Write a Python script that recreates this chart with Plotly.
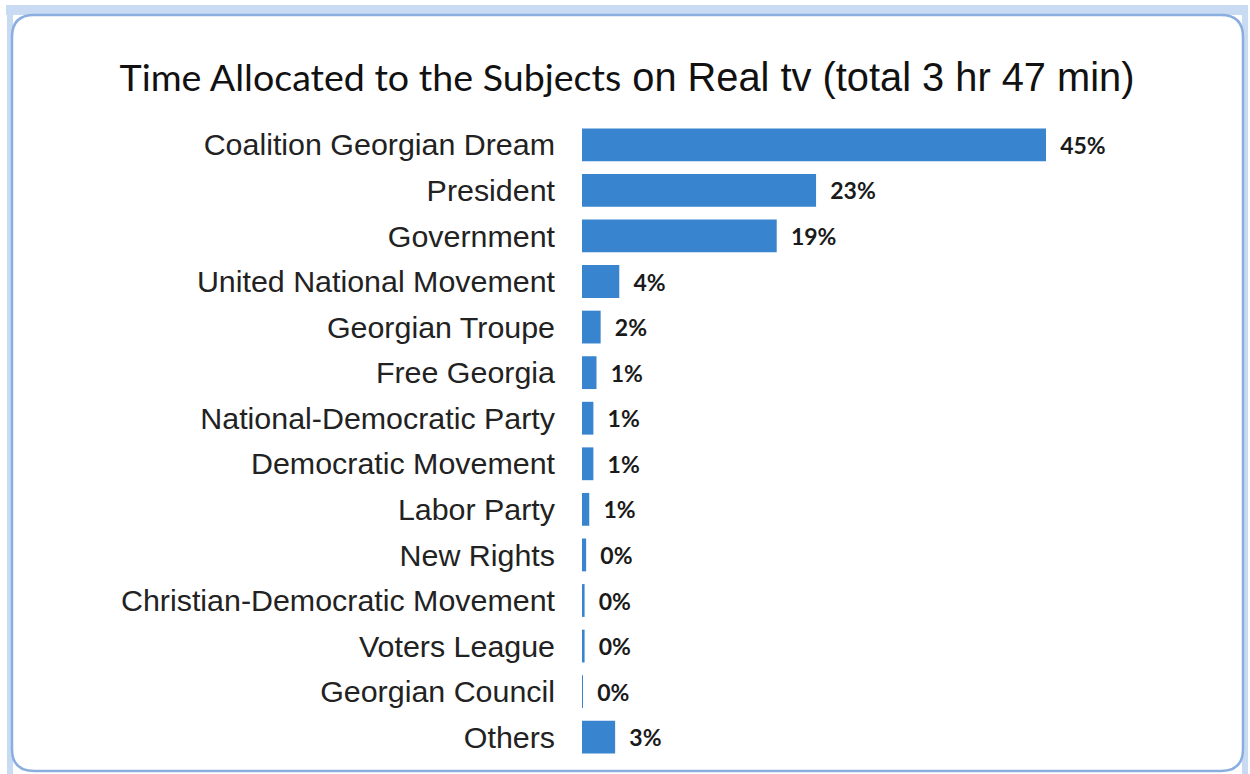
import plotly.graph_objects as go

categories = [
    "Coalition Georgian Dream", "President", "Government", "United National Movement",
    "Georgian Troupe", "Free Georgia", "National-Democratic Party", "Democratic Movement",
    "Labor Party", "New Rights", "Christian-Democratic Movement", "Voters League",
    "Georgian Council", "Others",
]
shares = [44.8, 22.6, 18.8, 3.6, 1.8, 1.4, 1.1, 1.1, 0.7, 0.4, 0.25, 0.25, 0.05, 3.2]

W, H = 1250, 774
L, R, T, B = 582, 50, 122, 14
pw, ph = W - L - R, H - T - B

def px(x):
    return (x - L) / pw

def py(y):
    return (H - B - y) / ph

fig = go.Figure(go.Bar(
    y=categories, x=shares, orientation="h",
    marker=dict(color="#3884CE", line=dict(width=0)),
    texttemplate="\u00a0\u00a0%{x:.0f}%", textposition="outside",
    textfont=dict(family="Lato", size=23, color="#1a1a1a", weight="bold"),
    cliponaxis=False, width=0.72,
))

# frame
x0, y0, x1, y1, r = 12, 15, 1243, 771, 22
path = (f"M {px(x0+r)} {py(y0)} L {px(x1-r)} {py(y0)} "
        f"Q {px(x1)} {py(y0)} {px(x1)} {py(y0+r)} L {px(x1)} {py(y1-r)} "
        f"Q {px(x1)} {py(y1)} {px(x1-r)} {py(y1)} L {px(x0+r)} {py(y1)} "
        f"Q {px(x0)} {py(y1)} {px(x0)} {py(y1-r)} L {px(x0)} {py(y0+r)} "
        f"Q {px(x0)} {py(y0)} {px(x0+r)} {py(y0)} Z")
shapes = [
    dict(type="rect", xref="paper", yref="paper", x0=px(6), x1=px(1248), y0=py(5), y1=py(15),
         fillcolor="#c9daf3", line=dict(width=0), layer="below"),
    dict(type="rect", xref="paper", yref="paper", x0=px(7), x1=px(13), y0=py(5), y1=py(774),
         fillcolor="#c9daf3", line=dict(width=0), layer="below"),
    dict(type="rect", xref="paper", yref="paper", x0=px(1242), x1=px(1248), y0=py(5), y1=py(774),
         fillcolor="#c9daf3", line=dict(width=0), layer="below"),
    dict(type="path", xref="paper", yref="paper", path=path,
         line=dict(color="#8aaee0", width=2.5), fillcolor="white", layer="below"),
]

title = ('<span style="font-family:Lato;font-size:37.6px">Time Allocated to the Subjects</span>'
         '<span style="font-family:Liberation Sans;font-size:39.8px"> on Real tv (total 3 hr 47 min)</span>')

fig.update_layout(
    width=W, height=H,
    margin=dict(l=L, r=R, t=T, b=B),
    paper_bgcolor="white", plot_bgcolor="rgba(0,0,0,0)",
    showlegend=False,
    shapes=shapes,
    title=dict(text=title, x=627 / W, xanchor="center", y=1 - 78 / H, yanchor="middle",
               font=dict(size=38, color="#111111", family="Liberation Sans")),
    xaxis=dict(visible=False, range=[0, pw / (464 / 44.8)], fixedrange=True),
    yaxis=dict(autorange="reversed", showline=False, ticks="", showgrid=False,
               tickfont=dict(family="Liberation Sans", size=30.4, color="#222222"),
               ticklabelstandoff=26),
)

fig.write_html("out.html", config={"displayModeBar": False},
               post_script="document.body.style.margin='0';")
